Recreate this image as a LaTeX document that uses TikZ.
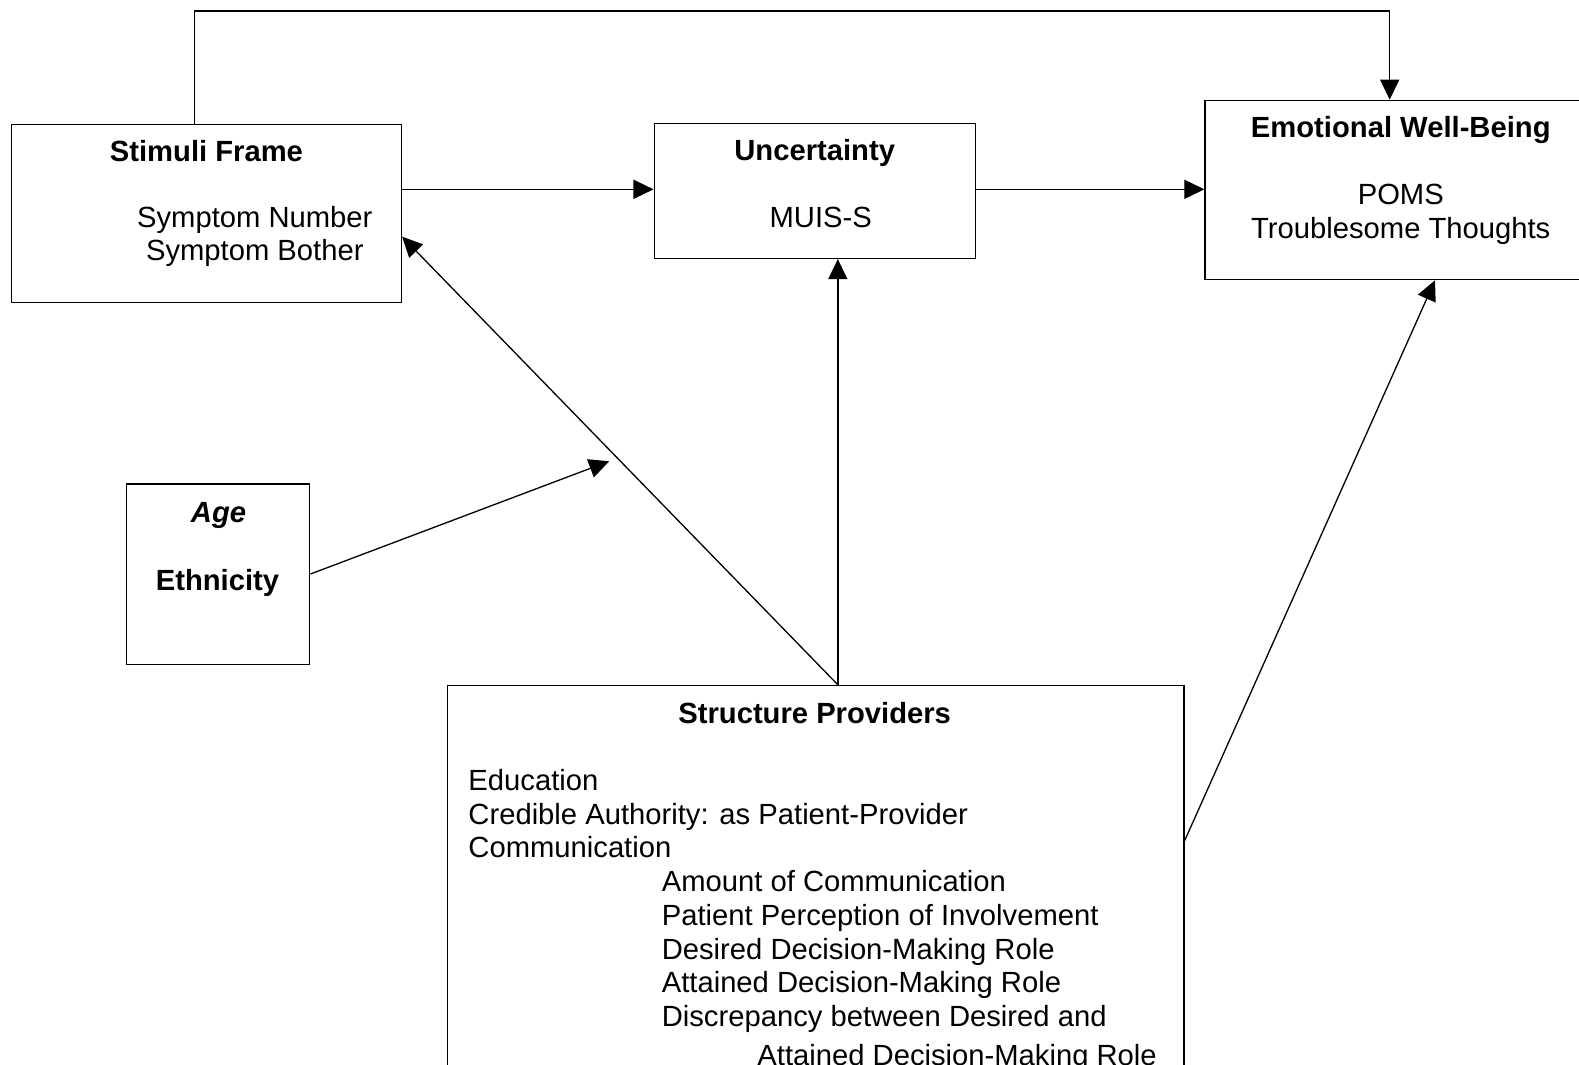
\documentclass[tikz,border=0pt]{standalone}
\usepackage{fontspec}
\setmainfont{Liberation Sans}
\usetikzlibrary{arrows.meta,calc}
\begin{document}
\begin{tikzpicture}[x=1pt,y=-1pt,
  box/.style={draw, line width=1.3pt, inner sep=0pt, anchor=north west},
  lbl/.style={inner sep=0pt, anchor=base, font=\fontsize{29}{33.5}\selectfont},
  lbll/.style={inner sep=0pt, anchor=base west, font=\fontsize{29}{33.5}\selectfont},
  ttl/.style={lbl, font=\fontsize{29}{33.5}\selectfont\bfseries},
  arr/.style={line width=1.3pt, -{Triangle[length=20pt,width=19pt]}},
  link/.style={line width=1.3pt}]
\useasboundingbox (0,0) rectangle (1568,1057);
\fill[white] (0,0) rectangle (1568,1057);
\clip (0,0) rectangle (1568,1057);

% boxes
\node[box, minimum width=387pt, minimum height=177pt] (sf) at (11,123) {};
\node[box, minimum width=319pt, minimum height=134pt] (unc) at (649,122) {};
\node[box, minimum width=400pt, minimum height=178pt] (ewb) at (1196,99) {};
\node[box, minimum width=182pt, minimum height=179pt] (age) at (125,480) {};
\node[box, minimum width=731pt, minimum height=420pt] (sp) at (444,680) {};

% box texts
\node[ttl] (sfT) at (205,160) {Stimuli Frame};
\node[lbl] (sf1) at (253,226) {Symptom Number};
\node[lbl] (sf2) at (253,259) {Symptom Bother};

\node[ttl] (uncT) at (809,159) {Uncertainty};
\node[lbl] (unc1) at (815,226) {MUIS-S};

\node[ttl] (ewbT) at (1391,137) {Emotional Well-Being};
\node[lbl] (ewb1) at (1391,203) {POMS};
\node[lbl] (ewb2) at (1391,237) {Troublesome Thoughts};

\node[ttl, font=\fontsize{29}{33.5}\selectfont\bfseries\itshape] (ageT) at (217,519) {Age};
\node[ttl] (eth) at (216,586) {Ethnicity};

\node[ttl] (spT) at (809,718) {Structure Providers};
\node[lbll] (sp1) at (465,785) {Education};
\node[lbll] (sp2) at (465,818.5) {Credible Authority: as Patient-Provider};
\node[lbll] (sp3) at (465,852) {Communication};
\node[lbll] (sp4) at (657,885.5) {Amount of Communication};
\node[lbll] (sp5) at (657,919) {Patient Perception of Involvement};
\node[lbll] (sp6) at (657,952.5) {Desired Decision-Making Role};
\node[lbll] (sp7) at (657,986) {Attained Decision-Making Role};
\node[lbll] (sp8) at (657,1019.5) {Discrepancy between Desired and};
\node[lbll] (sp9) at (752,1058) {Attained Decision-Making Role};

% connector helpers
\coordinate (topL) at (193,11);
\coordinate (topR) at (1380,11);
\coordinate (row) at (0,188);
\coordinate (sptop) at (832,680);
\coordinate (sfin) at (0,235);
\coordinate (ageout) at (0,570);
\coordinate (mod) at (605,458);
\coordinate (spout) at (0,835);
\coordinate (ewbin) at (1425,0);

% connectors
\draw[arr] (topL |- sf.north) -- (topL) -- (topR) -- (topR |- ewb.north);
\draw[arr] (sf.east |- row) -- (unc.west |- row);
\draw[arr] (unc.east |- row) -- (ewb.west |- row);
\draw[arr] (sptop) -- (sptop |- unc.south);
\draw[arr] (sptop) -- (sf.east |- sfin);
\draw[arr] (age.east |- ageout) -- (mod);
\draw[arr] (sp.east |- spout) -- (ewbin |- ewb.south);
\end{tikzpicture}
\end{document}
